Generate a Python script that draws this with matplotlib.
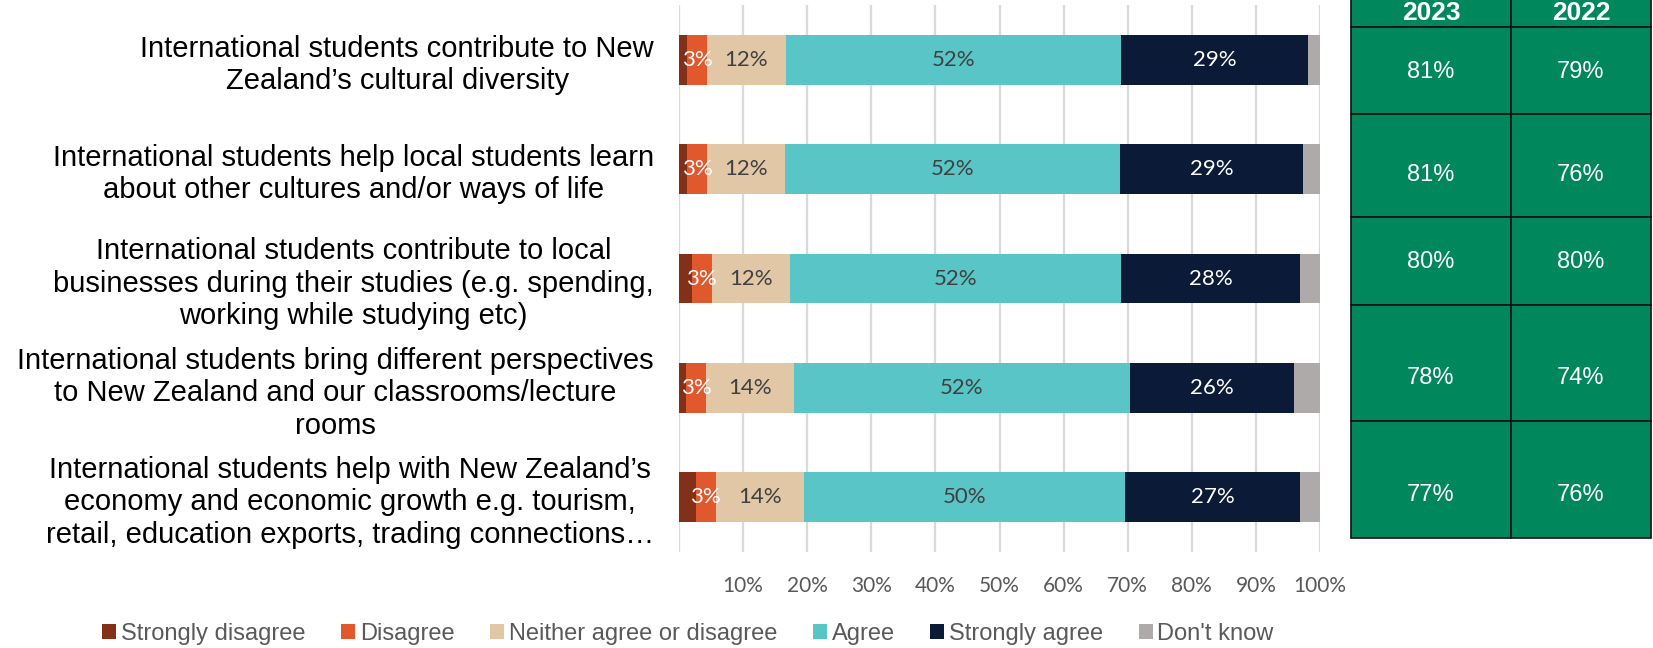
import matplotlib
matplotlib.use("Agg")
import matplotlib.pyplot as plt
from matplotlib.patches import Rectangle

# ---------------- data ----------------
statements = [
    "International students contribute to New\nZealand\u2019s cultural diversity",
    "International students help local students learn\nabout other cultures and/or ways of life",
    "International students contribute to local\nbusinesses during their studies (e.g. spending,\nworking while studying etc)",
    "International students bring different perspectives\nto New Zealand and our classrooms/lecture\nrooms",
    "International students help with New Zealand\u2019s\neconomy and economic growth e.g. tourism,\nretail, education exports, trading connections\u2026",
]
categories = ["Strongly disagree", "Disagree", "Neither agree or disagree",
              "Agree", "Strongly agree", "Don't know"]
strongly_disagree = [1.3, 1.3, 2.0, 1.1, 2.6]
disagree = [3.0, 3.1, 3.1, 3.1, 3.1]
neither = [12.4, 12.2, 12.2, 13.7, 13.8]
agree = [52.3, 52.2, 51.6, 52.4, 50.1]
strongly_agree = [29.2, 28.6, 28.0, 25.6, 27.3]
dont_know = [1.8, 2.6, 3.1, 4.1, 3.1]
labelled = [False, True, True, True, True, False]

table_years = ["2023", "2022"]
agree_total_2023 = [81, 81, 80, 78, 77]
agree_total_2022 = [79, 76, 80, 74, 76]

x_ticks = [0, 10, 20, 30, 40, 50, 60, 70, 80, 90, 100]
x_tick_labels = ["", "10%", "20%", "30%", "40%", "50%", "60%", "70%", "80%", "90%", "100%"]

# ---------------- style ----------------
colors = ["#833019", "#E2582D", "#E1C7A6", "#59C5C7", "#0B1A37", "#AEAAAA"]
label_colors = [None, "white", "#404040", "#404040", "white", None]
green = "#00885C"

W, H = 1653, 648
fig = plt.figure(figsize=(W / 100, H / 100), dpi=100)

ax_left, ax_right, ax_top, ax_bottom = 679, 1320, 5, 552
ax = fig.add_axes([ax_left / W, 1 - ax_bottom / H, (ax_right - ax_left) / W, (ax_bottom - ax_top) / H])

series = [strongly_disagree, disagree, neither, agree, strongly_agree, dont_know]
ypos = list(range(len(statements)))
left = [0.0] * len(statements)
handles = []
for vals, col, cat, lab, lcol in zip(series, colors, categories, labelled, label_colors):
    bc = ax.barh(ypos, vals, left=left, height=0.457, color=col, label=cat, zorder=3, linewidth=0)
    handles.append(bc)
    if lab:
        for y, v, l in zip(ypos, vals, left):
            ax.text(l + v / 2, y, f"{v:.0f}%", ha="center", va="center", color=lcol,
                    fontsize=16, family=["Lato", "DejaVu Sans"], zorder=4)
    left = [a + b for a, b in zip(left, vals)]

ax.set_xlim(0, 100)
ax.set_ylim(len(statements) - 0.5, -0.5)
ax.set_xticks(x_ticks)
ax.set_xticklabels(x_tick_labels, fontsize=15, color="#595959", family=["Lato", "DejaVu Sans"])
ax.set_yticks(ypos)
ax.set_yticklabels(statements, fontsize=21, family=["Liberation Sans", "DejaVu Sans"],
                   multialignment="center", color="black")
ax.tick_params(axis="both", length=0)
ax.tick_params(axis="x", pad=17)
ax.tick_params(axis="y", pad=18)
ax.grid(axis="x", color="#D9D9D9", linewidth=1.6, zorder=0)
ax.set_axisbelow(True)
for s in ax.spines.values():
    s.set_visible(False)

# ---------------- legend ----------------
leg = fig.legend(handles=handles, labels=categories, loc="center",
                 bbox_to_anchor=(688 / W, 1 - 634 / H), ncol=6, frameon=False,
                 prop={"family": ["Liberation Sans", "DejaVu Sans"], "size": 17},
                 handlelength=0.6, handleheight=0.6, handletextpad=0.2,
                 columnspacing=1.5, borderpad=0, borderaxespad=0)
for t in leg.get_texts():
    t.set_color("#595959")

# ---------------- side table ----------------
tab = fig.add_axes([0, 0, 1, 1], zorder=5)
tab.set_xlim(0, W)
tab.set_ylim(H, 0)
tab.axis("off")
col_edges = [1351, 1511, 1651]
row_edges = [-5, 27, 114, 217, 305, 421, 538]
body_text_y = [72, 175, 262, 378, 495]
header_text_y = 13

for r in range(len(row_edges) - 1):
    for c in range(len(col_edges) - 1):
        tab.add_patch(Rectangle((col_edges[c], row_edges[r]),
                                col_edges[c + 1] - col_edges[c],
                                row_edges[r + 1] - row_edges[r],
                                facecolor=green, edgecolor="#111111", linewidth=1.2))
for c, year in enumerate(table_years):
    cx = (col_edges[c] + col_edges[c + 1]) / 2
    tab.text(cx, header_text_y, year, ha="center", va="center", color="white",
             fontsize=19, fontweight="bold", family=["Liberation Sans", "DejaVu Sans"])
for c, col_vals in enumerate([agree_total_2023, agree_total_2022]):
    cx = (col_edges[c] + col_edges[c + 1]) / 2
    for ty, v in zip(body_text_y, col_vals):
        tab.text(cx, ty, f"{v}%", ha="center", va="center", color="white",
                 fontsize=17, family=["Liberation Sans", "DejaVu Sans"])

fig.savefig("out.png", dpi=100)
